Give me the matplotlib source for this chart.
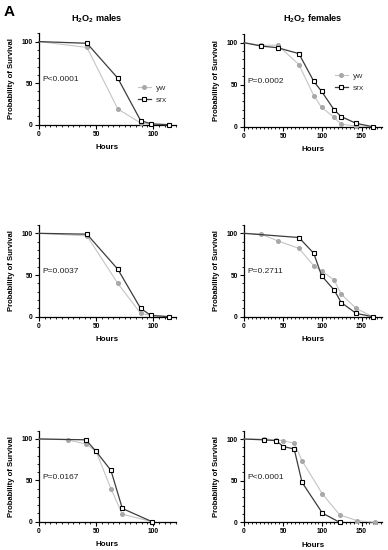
import numpy as np
import matplotlib
matplotlib.use("Agg")
import matplotlib.pyplot as plt
from matplotlib.ticker import MultipleLocator

plt.rcParams['font.family'] = ['Liberation Sans', 'DejaVu Sans']
plt.rcParams['mathtext.fontset'] = 'custom'
plt.rcParams['mathtext.bf'] = 'Liberation Sans:bold'
plt.rcParams['mathtext.rm'] = 'Liberation Sans'

# ---- data ----
# row 1
t1 = [0, 42, 69, 89, 98, 114]
yw1 = [100, 93, 19, 2, 0.5, 0]
srx1 = [100, 98, 56, 5, 1, 0]

t2 = [0, 22, 43, 70, 89, 99, 115, 124, 143, 164]
yw2 = [100, 97, 97, 74, 37, 23, 11, 3, 0.8, 0]
srx2 = [100, 96, 94, 87, 54, 42, 20, 12, 4, 0]

# row 2
t3 = [0, 42, 69, 89, 98, 114]
yw3 = [100, 97, 40, 4, 1.5, 0]
srx3 = [100, 99, 57, 10, 1.5, 0]

t4_yw = [0, 22, 43, 70, 89, 99, 115, 124, 143, 164]
yw4 = [100, 99, 91, 82, 61, 55, 44, 27, 10, 0]
t4_srx = [0, 70, 89, 99, 115, 124, 143, 164]
srx4 = [100, 95, 76, 49, 32, 17, 4, 0]

# row 3
t5_yw = [0, 25, 41, 50, 63, 73, 99]
yw5 = [100, 99, 94, 85, 40, 9, 0]
t5_srx = [0, 41, 50, 63, 73, 99]
srx5 = [100, 99, 85, 62, 16, 0]

t6_yw = [0, 26, 41, 50, 64, 74, 100, 122, 144, 167]
yw6 = [100, 100, 99, 98, 95, 74, 34, 9, 2, 0]
t6_srx = [0, 26, 41, 50, 64, 74, 100, 122]
srx6 = [100, 99, 98, 91, 88, 48, 11, 0]

p_values = ["P<0.0001", "P=0.0002", "P=0.0037", "P=0.2711", "P=0.0167", "P<0.0001"]
titles = [r"$\mathbf{H_2O_2}$ males", r"$\mathbf{H_2O_2}$ females"]

panels = [
    (t1, yw1, t1, srx1),
    (t2, yw2, t2, srx2),
    (t3, yw3, t3, srx3),
    (t4_yw, yw4, t4_srx, srx4),
    (t5_yw, yw5, t5_srx, srx5),
    (t6_yw, yw6, t6_srx, srx6),
]

W, H = 388, 550
# axes boxes in pixels: left, right, y of zero line, top
boxes = [
    (39, 176, 124.7, 33.3),
    (244, 382, 126.7, 34.3),
    (39, 176, 316.7, 225),
    (244, 382, 316.7, 225),
    (39, 176, 521.7, 430.7),
    (244, 382, 522.3, 430.7),
]
xmax = [120, 176, 120, 176, 120, 176]

YW_LINE = "#c4c4c4"
YW_MARK = "#a8a8a8"
SRX_LINE = "#3c3c3c"

fig = plt.figure(figsize=(W / 100, H / 100), dpi=100)

for i, (box, data) in enumerate(zip(boxes, panels)):
    l, r, y0, top = box
    ax = fig.add_axes([l / W, 1 - y0 / H, (r - l) / W, (y0 - top) / H])
    tyw, yw, tsrx, srx = data
    # no marker at time 0, the curve just starts there
    ax.plot(tyw, yw, color=YW_LINE, lw=0.8, marker='o', ms=2.6,
            mfc=YW_MARK, mec=YW_MARK, markevery=list(range(1, len(tyw))),
            clip_on=False, label="yw", zorder=3)
    ax.plot(tsrx, srx, color=SRX_LINE, lw=0.9, marker='s', ms=3.0,
            mfc='white', mec='black', mew=0.8, markevery=list(range(1, len(tsrx))),
            clip_on=False, label="srx", zorder=4)

    ax.set_xlim(0, xmax[i])
    ax.set_ylim(0, 110)
    ax.set_yticks([0, 50, 100])
    ax.xaxis.set_major_locator(MultipleLocator(50))
    ax.xaxis.set_minor_locator(MultipleLocator(5))
    ax.yaxis.set_minor_locator(MultipleLocator(10))
    for s in ['top', 'right']:
        ax.spines[s].set_visible(False)
    for s in ['left', 'bottom']:
        ax.spines[s].set_linewidth(0.9)
    ax.tick_params(which='major', length=2.6, width=0.8, labelsize=4.8, pad=1.8)
    ax.tick_params(which='minor', length=1.4, width=0.6)
    for lab in ax.get_xticklabels() + ax.get_yticklabels():
        lab.set_fontweight('bold')

    ax.set_xlabel("Hours", fontsize=5.8, fontweight='bold')
    ax.xaxis.set_label_coords(0.5, -0.21)
    ax.set_ylabel("Probability of Survival", fontsize=5.5, fontweight='bold')
    ax.yaxis.set_label_coords(-0.177, 0.5)

    ax.text(0.025, 0.49, p_values[i], transform=ax.transAxes, fontsize=6,
            va='center', ha='left', color='#222222')

    if i < 2:
        anchors = [(134 / W, 1 - 80 / H), (331 / W, 1 - 68 / H)]
        leg = ax.legend(loc='upper left', bbox_to_anchor=anchors[i],
                        bbox_transform=fig.transFigure, frameon=False,
                        fontsize=6, handlelength=1.5, handletextpad=0.6,
                        labelspacing=0.45, borderpad=0, markerscale=1.0)
        for t in leg.get_texts():
            t.set_color('#333333')

fig.text(96.7 / W, 1 - 18.5 / H, titles[0], fontsize=6.6, fontweight='bold',
         ha='center', va='center')
fig.text(313 / W, 1 - 18.5 / H, titles[1], fontsize=6.6, fontweight='bold',
         ha='center', va='center')
fig.text(4 / W, 1 - 12.5 / H, "A", fontsize=11, fontweight='bold',
         ha='left', va='center')

fig.savefig("out.png", dpi=100)
